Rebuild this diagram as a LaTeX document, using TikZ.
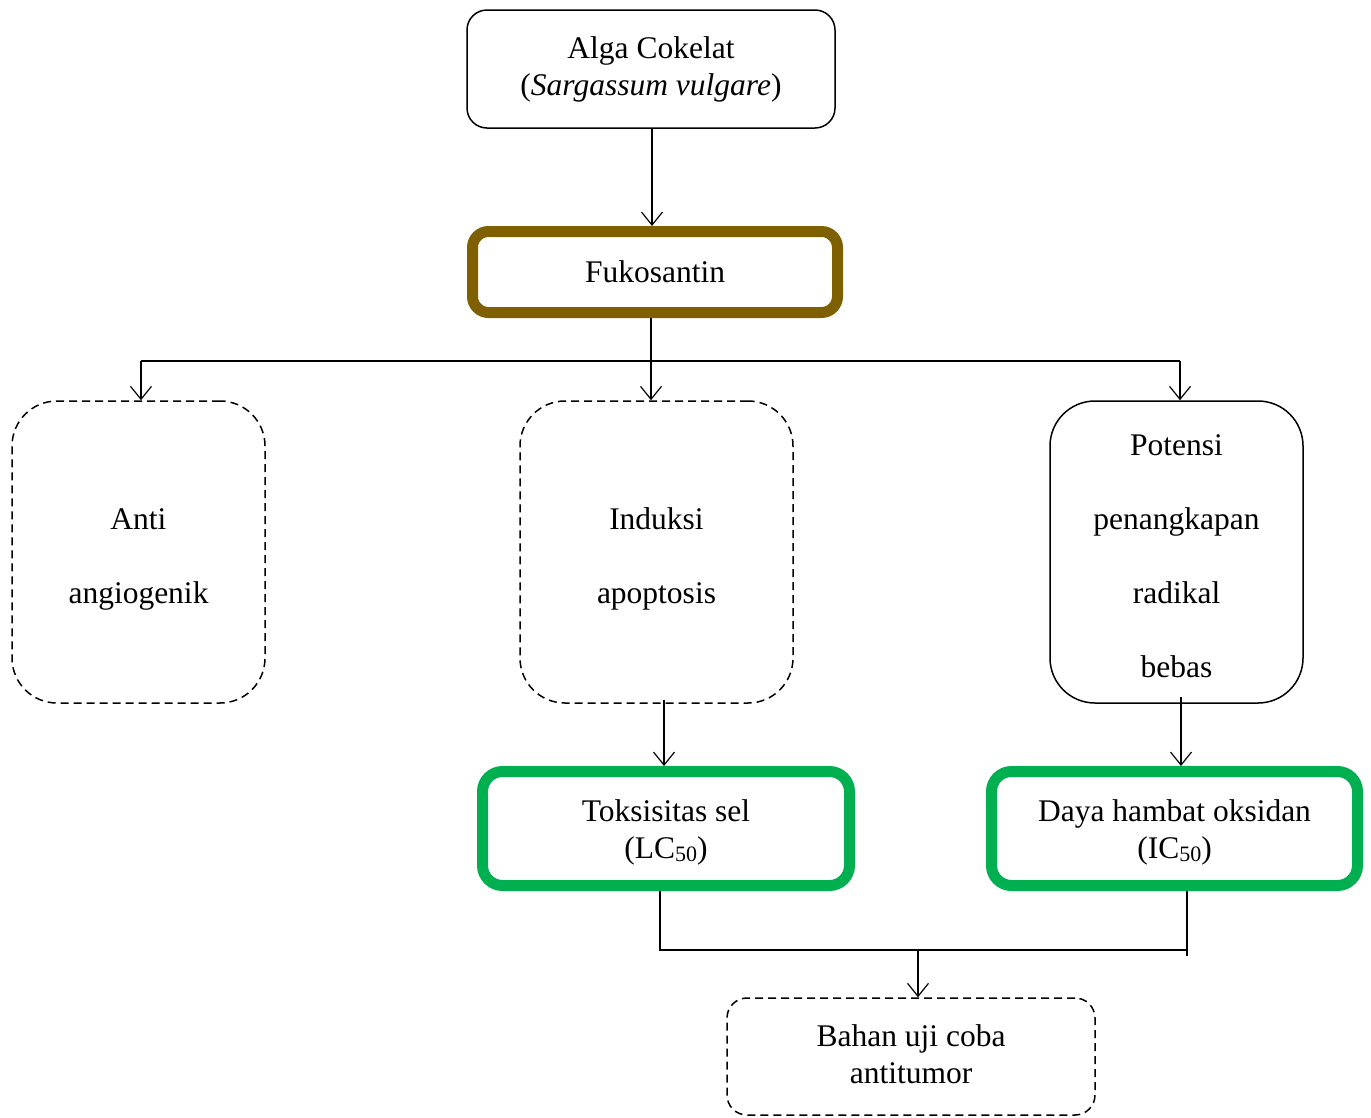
\documentclass[tikz,border=0pt]{standalone}
\usepackage{fontspec}
\setmainfont{Liberation Serif}
\usetikzlibrary{arrows.meta}
\definecolor{brownbox}{HTML}{7F6000}
\definecolor{greenbox}{HTML}{00B050}
\newcommand{\subfifty}{\raisebox{-3pt}{\fontsize{22}{22}\selectfont 50}}
\newcommand{\lowerstrut}{\rule{0pt}{35pt}}
\begin{document}
\begin{tikzpicture}[x=1pt,y=-1pt,
  every node/.style={align=center,inner sep=0pt,font=\fontsize{31.5}{37}\selectfont},
  solidbox/.style={draw,line width=1.5pt,rounded corners=20pt},
  dashbox/.style={draw,line width=1.5pt,dash pattern=on 8pt off 5pt},
  thickbox/.style={draw,line width=11pt,rounded corners=16pt},
  wide/.style={font=\fontsize{31.5}{74}\selectfont},
  conn/.style={line width=1.2pt},
  arr/.style={conn,-{Straight Barb[length=13pt,width=21pt]}}]
\useasboundingbox (0,0) rectangle (1371,1117);

\node[solidbox,minimum width=368pt,minimum height=118pt] (alga) at (651,69)
  {Alga Cokelat\\(\textit{Sargassum vulgare})\rule[-5pt]{0pt}{1pt}};
\node[thickbox,draw=brownbox,minimum width=365pt,minimum height=81pt] (fuko) at (655,272)
  {Fukosantin};
\node[dashbox,rounded corners=45pt,minimum width=253pt,minimum height=302pt,wide] (anti) at (138.5,552)
  {\lowerstrut Anti\\angiogenik};
\node[dashbox,rounded corners=45pt,minimum width=273pt,minimum height=302pt,wide] (induksi) at (656.5,552)
  {\lowerstrut Induksi\\apoptosis};
\node[solidbox,rounded corners=45pt,minimum width=253pt,minimum height=302pt,wide] (pot) at (1176.5,552)
  {\rule{0pt}{30pt}Potensi\\penangkapan\\radikal\\bebas};
\node[thickbox,draw=greenbox,rounded corners=20pt,minimum width=367pt,minimum height=114pt] (toks) at (666,828.5)
  {\rule{0pt}{29pt}Toksisitas sel\\(LC\subfifty)};
\node[thickbox,draw=greenbox,rounded corners=20pt,minimum width=366pt,minimum height=114pt] (daya) at (1174.5,828.5)
  {\rule{0pt}{29pt}Daya hambat oksidan\\(IC\subfifty)};
\node[dashbox,rounded corners=20pt,minimum width=368pt,minimum height=117pt] (bahan) at (911,1056.5)
  {Bahan uji coba\\antitumor\rule[-5pt]{0pt}{1pt}};

% Alga -> Fukosantin
\coordinate (a1) at (652,128);
\draw[arr] (alga.south -| a1) -- (a1 |- fuko.north);

% Fukosantin -> three branches
\coordinate (bus) at (651,361);
\coordinate (busL) at (141,361);
\coordinate (busR) at (1180,361);
\draw[conn] (bus |- fuko.south) -- (bus);
\draw[conn] (busL) -- (busR);
\draw[arr] (busL) -- (busL |- anti.north);
\draw[arr] (bus) -- (bus |- induksi.north);
\draw[arr] (busR) -- (busR |- pot.north);

% Induksi -> Toksisitas
\coordinate (i1) at (664,700);
\draw[arr] (i1) -- (i1 |- toks.north);
% Potensi -> Daya
\coordinate (p1) at (1181,697);
\draw[arr] (p1) -- (p1 |- daya.north);

% Toksisitas & Daya -> Bahan
\coordinate (t1) at (660,950);
\coordinate (d1) at (1187,950);
\coordinate (m1) at (918,950);
\draw[conn] (t1 |- toks.south) -- (t1) -- (d1);
\draw[conn] (d1 |- daya.south) -- ++(0,65);
\draw[arr] (m1) -- (m1 |- bahan.north);
\end{tikzpicture}
\end{document}
